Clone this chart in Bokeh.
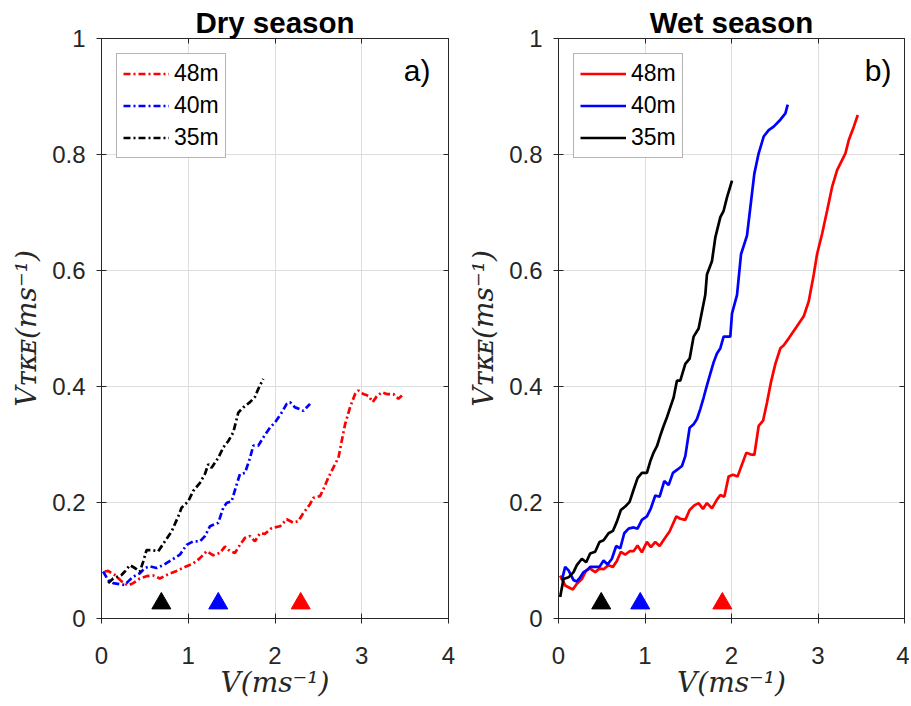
from bokeh.plotting import figure
from bokeh.layouts import row
from bokeh.models import (Label, LinearAxis, Legend, LegendItem, Range1d,
                          FixedTicker, NumeralTickFormatter)
from bokeh.embed import file_html
from bokeh.resources import INLINE

# ---------------- data ----------------
x_ticks = [0, 1, 2, 3, 4]
y_ticks = [0, 0.2, 0.4, 0.6, 0.8, 1]
series_names = ["48m", "40m", "35m"]
series_colors = ["#ff0000", "#0000ff", "#000000"]
x_label = "V(ms\u207b\u00b9)"
y_label = "V\u1d1b\u1d0b\u1d07(ms\u207b\u00b9)"

# Dry season
dry_x_48 = [0.038, 0.077, 0.154, 0.231, 0.308, 0.365, 0.442, 0.519, 0.596, 0.673, 0.75, 0.865,
            0.981, 1.058, 1.135, 1.212, 1.288, 1.365, 1.423, 1.481, 1.538, 1.596, 1.654, 1.712,
            1.769, 1.827, 1.885, 1.962, 2.058, 2.135, 2.212, 2.269, 2.327, 2.404, 2.442, 2.519,
            2.558, 2.615, 2.692, 2.731, 2.769, 2.808, 2.865, 2.923, 2.962, 3.019, 3.077, 3.127,
            3.173, 3.231, 3.288, 3.365, 3.423, 3.481]
dry_y_48 = [0.081, 0.082, 0.075, 0.064, 0.057, 0.061, 0.069, 0.073, 0.074, 0.069, 0.075, 0.082,
            0.090, 0.095, 0.104, 0.116, 0.109, 0.113, 0.124, 0.116, 0.113, 0.127, 0.139, 0.142,
            0.133, 0.147, 0.146, 0.156, 0.159, 0.171, 0.165, 0.168, 0.182, 0.197, 0.208, 0.211,
            0.223, 0.243, 0.266, 0.277, 0.306, 0.335, 0.364, 0.387, 0.393, 0.387, 0.384, 0.373,
            0.383, 0.390, 0.387, 0.387, 0.379, 0.387]
dry_x_40 = [0.019, 0.077, 0.135, 0.212, 0.269, 0.308, 0.365, 0.442, 0.5, 0.558, 0.635, 0.712,
            0.808, 0.904, 0.981, 1.058, 1.135, 1.192, 1.25, 1.346, 1.404, 1.442, 1.5, 1.558,
            1.596, 1.654, 1.712, 1.75, 1.808, 1.865, 1.942, 2.0, 2.077, 2.135, 2.173, 2.231,
            2.288, 2.327, 2.404]
dry_y_40 = [0.081, 0.066, 0.061, 0.059, 0.058, 0.064, 0.072, 0.078, 0.087, 0.090, 0.087, 0.092,
            0.101, 0.110, 0.127, 0.133, 0.133, 0.142, 0.159, 0.165, 0.191, 0.199, 0.202, 0.231,
            0.249, 0.251, 0.277, 0.298, 0.298, 0.312, 0.329, 0.338, 0.355, 0.370, 0.373, 0.364,
            0.361, 0.358, 0.370]
dry_x_35 = [0.077, 0.135, 0.231, 0.269, 0.327, 0.385, 0.442, 0.481, 0.519, 0.577, 0.654, 0.731,
            0.808, 0.885, 0.923, 1.0, 1.058, 1.135, 1.192, 1.231, 1.269, 1.346, 1.404, 1.462,
            1.519, 1.577, 1.635, 1.712, 1.769, 1.808, 1.865]
dry_y_35 = [0.061, 0.069, 0.075, 0.081, 0.092, 0.087, 0.081, 0.098, 0.118, 0.118, 0.116, 0.133,
            0.150, 0.176, 0.191, 0.202, 0.220, 0.234, 0.249, 0.266, 0.260, 0.277, 0.295, 0.306,
            0.321, 0.355, 0.364, 0.373, 0.382, 0.396, 0.413]
dry_tri_x = [2.296, 1.346, 0.69]

# Wet season
wet_x_48 = [0.019, 0.077, 0.166, 0.212, 0.270, 0.320, 0.366, 0.424, 0.474, 0.521, 0.579, 0.629,
            0.675, 0.721, 0.771, 0.822, 0.868, 0.914, 0.964, 1.022, 1.068, 1.119, 1.169, 1.223,
            1.284, 1.362, 1.408, 1.466, 1.516, 1.570, 1.620, 1.670, 1.716, 1.774, 1.832, 1.871,
            1.917, 1.967, 2.017, 2.071, 2.122, 2.172, 2.218, 2.264, 2.314, 2.365, 2.411, 2.457,
            2.507, 2.565, 2.604, 2.662, 2.739, 2.835, 2.893, 2.951, 2.989, 3.047, 3.105, 3.163,
            3.221, 3.317, 3.356, 3.414, 3.460]
wet_y_48 = [0.074, 0.057, 0.050, 0.060, 0.068, 0.083, 0.086, 0.080, 0.086, 0.085, 0.092, 0.089,
            0.099, 0.115, 0.110, 0.116, 0.116, 0.126, 0.114, 0.132, 0.123, 0.132, 0.125, 0.137,
            0.150, 0.176, 0.172, 0.170, 0.187, 0.195, 0.199, 0.189, 0.199, 0.190, 0.205, 0.213,
            0.210, 0.245, 0.248, 0.245, 0.266, 0.286, 0.283, 0.282, 0.332, 0.341, 0.373, 0.408,
            0.439, 0.466, 0.471, 0.483, 0.500, 0.521, 0.547, 0.593, 0.628, 0.663, 0.703, 0.744,
            0.773, 0.802, 0.825, 0.848, 0.868]
wet_x_40 = [0.039, 0.077, 0.116, 0.174, 0.212, 0.251, 0.289, 0.328, 0.366, 0.424, 0.474, 0.521,
            0.567, 0.617, 0.667, 0.714, 0.760, 0.810, 0.868, 0.914, 0.964, 1.022, 1.068, 1.119,
            1.169, 1.223, 1.273, 1.323, 1.377, 1.427, 1.466, 1.516, 1.562, 1.601, 1.639, 1.678,
            1.716, 1.755, 1.794, 1.832, 1.871, 1.909, 1.986, 2.006, 2.064, 2.110, 2.179, 2.218,
            2.264, 2.314, 2.372, 2.430, 2.488, 2.565, 2.623, 2.650]
wet_y_40 = [0.066, 0.089, 0.083, 0.066, 0.064, 0.071, 0.080, 0.083, 0.089, 0.089, 0.089, 0.100,
            0.093, 0.103, 0.125, 0.121, 0.147, 0.155, 0.157, 0.155, 0.170, 0.176, 0.190, 0.212,
            0.210, 0.237, 0.230, 0.251, 0.257, 0.263, 0.280, 0.329, 0.335, 0.344, 0.361, 0.381,
            0.402, 0.422, 0.442, 0.457, 0.466, 0.486, 0.486, 0.526, 0.558, 0.628, 0.660, 0.709,
            0.767, 0.802, 0.831, 0.842, 0.848, 0.860, 0.871, 0.886]
wet_x_35 = [0.019, 0.058, 0.116, 0.174, 0.212, 0.270, 0.320, 0.366, 0.424, 0.474, 0.521, 0.579,
            0.629, 0.675, 0.721, 0.771, 0.822, 0.868, 0.914, 0.964, 1.022, 1.061, 1.099, 1.138,
            1.176, 1.215, 1.254, 1.292, 1.331, 1.369, 1.408, 1.466, 1.516, 1.562, 1.620, 1.697,
            1.716, 1.774, 1.813, 1.871, 1.909, 1.948, 2.006]
wet_y_35 = [0.037, 0.068, 0.071, 0.080, 0.092, 0.103, 0.097, 0.112, 0.115, 0.132, 0.135, 0.147,
            0.151, 0.167, 0.187, 0.193, 0.201, 0.222, 0.242, 0.251, 0.251, 0.271, 0.286, 0.297,
            0.315, 0.332, 0.347, 0.364, 0.381, 0.410, 0.410, 0.439, 0.448, 0.486, 0.500, 0.558,
            0.593, 0.616, 0.657, 0.692, 0.703, 0.726, 0.755]
wet_tri_x = [1.894, 0.945, 0.494]
tri_level = [0.026, 0.026, 0.026]

AXC = "#262626"
GRID = "#dedede"


def make_panel(title, tag, xs_list, ys_list, tri_x, dash, width, b_left, b_right,
               frame_w, tag_right):
    p = figure(width=width, height=706, x_range=Range1d(0, 4), y_range=Range1d(0, 1),
               output_backend="svg", toolbar_location=None, title=title,
               min_border_left=b_left, min_border_right=b_right,
               min_border_top=38, min_border_bottom=88)
    p.background_fill_color = "white"
    p.border_fill_color = "white"
    p.outline_line_color = AXC
    p.outline_line_width = 1

    p.title.text_font = "Liberation Sans"
    p.title.text_font_size = "29.5px"
    p.title.text_font_style = "bold"
    p.title.text_color = "black"
    p.title.align = "center"
    p.title.standoff = 0
    p.title.offset = 0

    for ax, ticks in ((p.xaxis[0], x_ticks), (p.yaxis[0], y_ticks)):
        ax.ticker = FixedTicker(ticks=ticks)
        ax.major_tick_in = 5
        ax.major_tick_out = 5
        ax.minor_tick_in = 0
        ax.minor_tick_out = 0
        ax.axis_line_color = AXC
        ax.major_tick_line_color = AXC
        ax.major_label_text_font = "Liberation Sans"
        ax.major_label_text_font_size = "24px"
        ax.major_label_text_color = AXC
        ax.axis_label_text_font = "DejaVu Serif"
        ax.axis_label_text_font_style = "italic"
        ax.axis_label_text_font_size = "28px"
        ax.axis_label_text_color = AXC
    p.yaxis[0].formatter = NumeralTickFormatter(format="0.[0]")
    p.yaxis[0].major_label_standoff = 11
    p.xaxis[0].major_label_standoff = 23
    p.xaxis[0].axis_label = x_label
    p.yaxis[0].axis_label = y_label
    p.xaxis[0].axis_label_standoff = -1
    p.yaxis[0].axis_label_standoff = 6

    for loc, ticks in (("right", y_ticks), ("above", x_ticks)):
        ax = LinearAxis(ticker=FixedTicker(ticks=ticks), major_label_text_font_size="1px",
                        major_label_text_alpha=0, major_label_standoff=0,
                        major_tick_in=5, major_tick_out=0,
                        minor_tick_in=0, minor_tick_out=0, axis_line_color=AXC,
                        major_tick_line_color=AXC)
        p.add_layout(ax, loc)

    p.xgrid.ticker = FixedTicker(ticks=x_ticks)
    p.ygrid.ticker = FixedTicker(ticks=y_ticks)
    p.xgrid.grid_line_color = GRID
    p.ygrid.grid_line_color = GRID

    items = []
    for name, xs, ys, col in zip(series_names, xs_list, ys_list, series_colors):
        r = p.line(xs, ys, line_color=col, line_width=2.7, line_dash=dash)
        items.append(LegendItem(label=name, renderers=[r]))
    p.scatter(tri_x, tri_level, marker="triangle", size=19,
              fill_color=series_colors, line_color=series_colors)

    leg = Legend(items=items, location="top_left", margin=15, padding=6, spacing=5,
                 glyph_width=46, glyph_height=25, label_height=25, label_standoff=5,
                 label_text_font="Liberation Sans", label_text_font_size="23px",
                 label_text_color="black", border_line_color="#6a6a6a",
                 border_line_width=1, background_fill_alpha=1.0)
    p.add_layout(leg)

    p.add_layout(Label(x=frame_w - tag_right, y=548, x_units="screen", y_units="screen",
                       text=tag, text_font="Liberation Sans", text_font_size="30px",
                       text_align="right", text_baseline="alphabetic", text_color="black"))
    return p


p1 = make_panel("Dry season", "a)", [dry_x_48, dry_x_40, dry_x_35],
                [dry_y_48, dry_y_40, dry_y_35], dry_tri_x, "7 3 2 3",
                width=460, b_left=101, b_right=12, frame_w=347, tag_right=18)
p2 = make_panel("Wet season", "b)", [wet_x_48, wet_x_40, wet_x_35],
                [wet_y_48, wet_y_40, wet_y_35], wet_tri_x, "solid",
                width=449, b_left=98, b_right=5, frame_w=346, tag_right=13)

layout = row(p1, p2)
open("out.html", "w").write(file_html(layout, INLINE))
